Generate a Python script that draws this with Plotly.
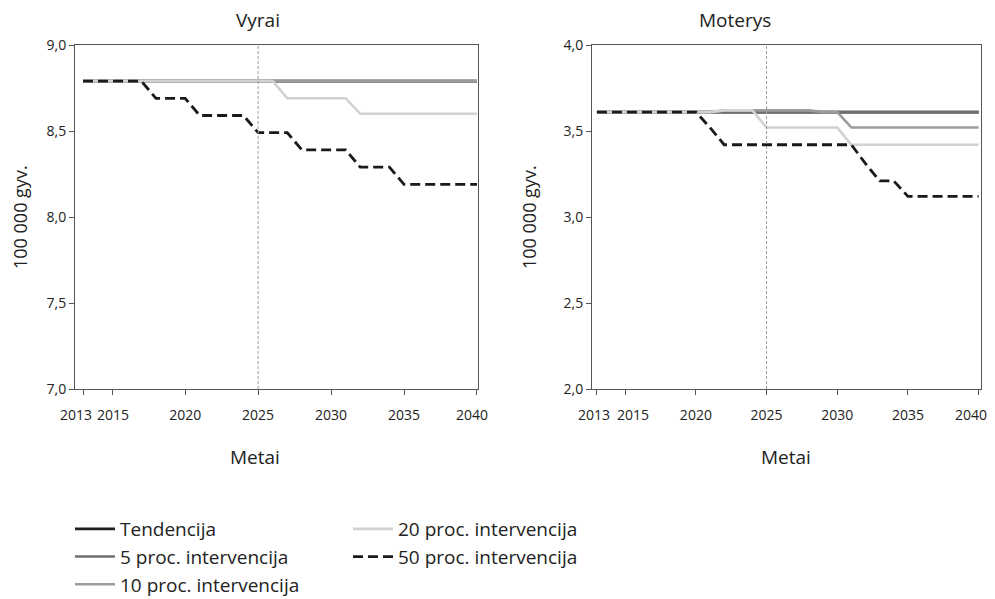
import plotly.graph_objects as go

years = [2013, 2014, 2015, 2016, 2017, 2018, 2019, 2020, 2021, 2022, 2023, 2024, 2025, 2026,
         2027, 2028, 2029, 2030, 2031, 2032, 2033, 2034, 2035, 2036, 2037, 2038, 2039, 2040]
tick_years = [2013, 2015, 2020, 2025, 2030, 2035, 2040]
tick_labels = ["2013", "2015", "2020", "2025", "2030", "2035", "2040"]
series_names = ["Tendencija", "5 proc. intervencija", "10 proc. intervencija",
                "20 proc. intervencija", "50 proc. intervencija"]

# Vyrai (men)
m_tend = [8.79, 8.79, 8.79, 8.79, 8.79, 8.79, 8.79, 8.79, 8.79, 8.79, 8.79, 8.79, 8.79, 8.79,
          8.79, 8.79, 8.79, 8.79, 8.79, 8.79, 8.79, 8.79, 8.79, 8.79, 8.79, 8.79, 8.79, 8.79]
m_5 = [8.79, 8.79, 8.79, 8.79, 8.79, 8.79, 8.79, 8.79, 8.79, 8.79, 8.79, 8.79, 8.79, 8.79,
       8.79, 8.79, 8.79, 8.79, 8.79, 8.79, 8.79, 8.79, 8.79, 8.79, 8.79, 8.79, 8.79, 8.79]
m_10 = [8.79, 8.79, 8.79, 8.79, 8.79, 8.79, 8.79, 8.79, 8.79, 8.79, 8.79, 8.79, 8.79, 8.79,
        8.79, 8.79, 8.79, 8.79, 8.79, 8.79, 8.79, 8.79, 8.79, 8.79, 8.79, 8.79, 8.79, 8.79]
m_20 = [8.79, 8.79, 8.79, 8.79, 8.79, 8.79, 8.79, 8.79, 8.79, 8.79, 8.79, 8.79, 8.79, 8.79,
        8.69, 8.69, 8.69, 8.69, 8.69, 8.60, 8.60, 8.60, 8.60, 8.60, 8.60, 8.60, 8.60, 8.60]
m_50 = [8.79, 8.79, 8.79, 8.79, 8.79, 8.69, 8.69, 8.69, 8.59, 8.59, 8.59, 8.59, 8.49, 8.49,
        8.49, 8.39, 8.39, 8.39, 8.39, 8.29, 8.29, 8.29, 8.19, 8.19, 8.19, 8.19, 8.19, 8.19]

# Moterys (women)
f_tend = [3.61, 3.61, 3.61, 3.61, 3.61, 3.61, 3.61, 3.61, 3.61, 3.61, 3.61, 3.61, 3.61, 3.61,
          3.61, 3.61, 3.61, 3.61, 3.61, 3.61, 3.61, 3.61, 3.61, 3.61, 3.61, 3.61, 3.61, 3.61]
f_5 = [3.61, 3.61, 3.61, 3.61, 3.61, 3.61, 3.61, 3.61, 3.61, 3.61, 3.61, 3.61, 3.61, 3.61,
       3.61, 3.61, 3.61, 3.61, 3.61, 3.61, 3.61, 3.61, 3.61, 3.61, 3.61, 3.61, 3.61, 3.61]
f_10 = [3.61, 3.61, 3.61, 3.61, 3.61, 3.61, 3.61, 3.61, 3.61, 3.62, 3.62, 3.62, 3.62, 3.62,
        3.62, 3.62, 3.61, 3.61, 3.52, 3.52, 3.52, 3.52, 3.52, 3.52, 3.52, 3.52, 3.52, 3.52]
f_20 = [3.61, 3.61, 3.61, 3.61, 3.61, 3.61, 3.61, 3.61, 3.61, 3.62, 3.62, 3.62, 3.52, 3.52,
        3.52, 3.52, 3.52, 3.52, 3.42, 3.42, 3.42, 3.42, 3.42, 3.42, 3.42, 3.42, 3.42, 3.42]
f_50 = [3.61, 3.61, 3.61, 3.61, 3.61, 3.61, 3.61, 3.61, 3.52, 3.42, 3.42, 3.42, 3.42, 3.42,
        3.42, 3.42, 3.42, 3.42, 3.42, 3.31, 3.21, 3.21, 3.12, 3.12, 3.12, 3.12, 3.12, 3.12]

colors = ["#1e1e1e", "#6f6f6f", "#9c9c9c", "#d2d2d2", "#1a1a1a"]
dashes = ["solid", "solid", "solid", "solid", "10px,5px"]
widths = [2.6, 2.6, 2.6, 2.6, 2.8]

# page body has an 8px margin: the figure sits 8px in from the window's corner
OFF = 8
FW, FH = 995 - OFF, 599 - OFF
FONT = "Open Sans"

def px_x(p):
    return (p - OFF) / FW

def px_y(p):
    return 1 - (p - OFF) / FH

fig = go.Figure()
men = [m_tend, m_5, m_10, m_20, m_50]
women = [f_tend, f_5, f_10, f_20, f_50]
for i, name in enumerate(series_names):
    leg = "legend" if i < 3 else "legend2"
    fig.add_trace(go.Scatter(x=years, y=men[i], mode="lines", name=name,
                             line=dict(color=colors[i], width=widths[i], dash=dashes[i]),
                             xaxis="x", yaxis="y", legend=leg, showlegend=True))
for i, name in enumerate(series_names):
    fig.add_trace(go.Scatter(x=years, y=women[i], mode="lines", name=name,
                             line=dict(color=colors[i], width=widths[i], dash=dashes[i]),
                             xaxis="x2", yaxis="y2", showlegend=False))

tickfont = dict(family=FONT, size=14, color="#222222")
axis_common = dict(showline=True, linecolor="#555555", linewidth=1, mirror=True,
                   ticks="outside", ticklen=5, tickcolor="#555555", showgrid=False,
                   zeroline=False, automargin=False, tickangle=0, tickfont=tickfont)

TOP, BOTTOM = 45, 389
TICK_LABEL_Y = 414

# main x axes carry all tick marks; the crowded labels (2013, 2015) and the edge
# label 2040 are placed as axis-referenced annotations so they can be nudged
mid_text = ["", ""] + tick_labels[2:-1] + [""]
label_shifts = {"x": {0: -7, 1: 1, 6: -5}, "x2": {0: -3, 1: 8, 6: -8}}

edge_labels = []
for xref, shifts in label_shifts.items():
    for idx, shift in shifts.items():
        edge_labels.append(dict(text=tick_labels[idx], x=tick_years[idx], xref=xref,
                                y=px_y(TICK_LABEL_Y), yref="paper", xshift=shift,
                                showarrow=False, font=tickfont,
                                xanchor="center", yanchor="middle"))

fig.update_layout(
    width=FW, height=FH,
    margin=dict(l=0, r=0, t=0, b=0, autoexpand=False),
    paper_bgcolor="white", plot_bgcolor="white",
    separators=", ",
    font=dict(family=FONT, color="#222222"),
    xaxis=dict(domain=[px_x(75), px_x(478)], range=[2012.45, 2040.07], anchor="y",
               tickvals=tick_years, ticktext=mid_text, ticklabelstandoff=8, **axis_common),
    yaxis=dict(domain=[px_y(BOTTOM), px_y(TOP)], range=[7.0, 9.0], anchor="x",
               tickvals=[7.0, 7.5, 8.0, 8.5, 9.0], tickformat=".1f", **axis_common),
    xaxis2=dict(domain=[px_x(592), px_x(981)], range=[2012.65, 2040.17], anchor="y2",
                tickvals=tick_years, ticktext=mid_text, ticklabelstandoff=8, **axis_common),
    yaxis2=dict(domain=[px_y(BOTTOM), px_y(TOP)], range=[2.0, 4.0], anchor="x2",
                tickvals=[2.0, 2.5, 3.0, 3.5, 4.0], tickformat=".1f", **axis_common),
    legend=dict(x=px_x(70), y=px_y(510), xanchor="left", yanchor="top",
                orientation="v", bgcolor="rgba(0,0,0,0)", itemwidth=40,
                font=dict(family=FONT, size=19, color="#222222"), tracegroupgap=0),
    legend2=dict(x=px_x(348), y=px_y(510), xanchor="left", yanchor="top",
                 orientation="v", bgcolor="rgba(0,0,0,0)", itemwidth=40,
                 font=dict(family=FONT, size=19, color="#222222"), tracegroupgap=0),
    shapes=[
        dict(type="line", xref="x", yref="y domain", x0=2025, x1=2025, y0=0, y1=1,
             line=dict(color="#9a9a9a", width=1, dash="3px,2px")),
        dict(type="line", xref="x2", yref="y2 domain", x0=2025, x1=2025, y0=0, y1=1,
             line=dict(color="#9a9a9a", width=1, dash="3px,2px")),
    ],
    annotations=edge_labels + [
        dict(text="Vyrai", x=px_x(258), y=px_y(20), xref="paper", yref="paper",
             showarrow=False, font=dict(family=FONT, size=19), xanchor="center", yanchor="middle"),
        dict(text="Moterys", x=px_x(735), y=px_y(20), xref="paper", yref="paper",
             showarrow=False, font=dict(family=FONT, size=19), xanchor="center", yanchor="middle"),
        dict(text="Metai", x=px_x(255), y=px_y(457), xref="paper", yref="paper",
             showarrow=False, font=dict(family=FONT, size=19), xanchor="center", yanchor="middle"),
        dict(text="Metai", x=px_x(786), y=px_y(457), xref="paper", yref="paper",
             showarrow=False, font=dict(family=FONT, size=19), xanchor="center", yanchor="middle"),
        dict(text="100 000 gyv.", x=px_x(20), y=px_y(217), xref="paper", yref="paper",
             showarrow=False, textangle=-90, font=dict(family=FONT, size=18),
             xanchor="center", yanchor="middle"),
        dict(text="100 000 gyv.", x=px_x(529), y=px_y(217), xref="paper", yref="paper",
             showarrow=False, textangle=-90, font=dict(family=FONT, size=18),
             xanchor="center", yanchor="middle"),
    ],
)

fig.write_html("out.html")
